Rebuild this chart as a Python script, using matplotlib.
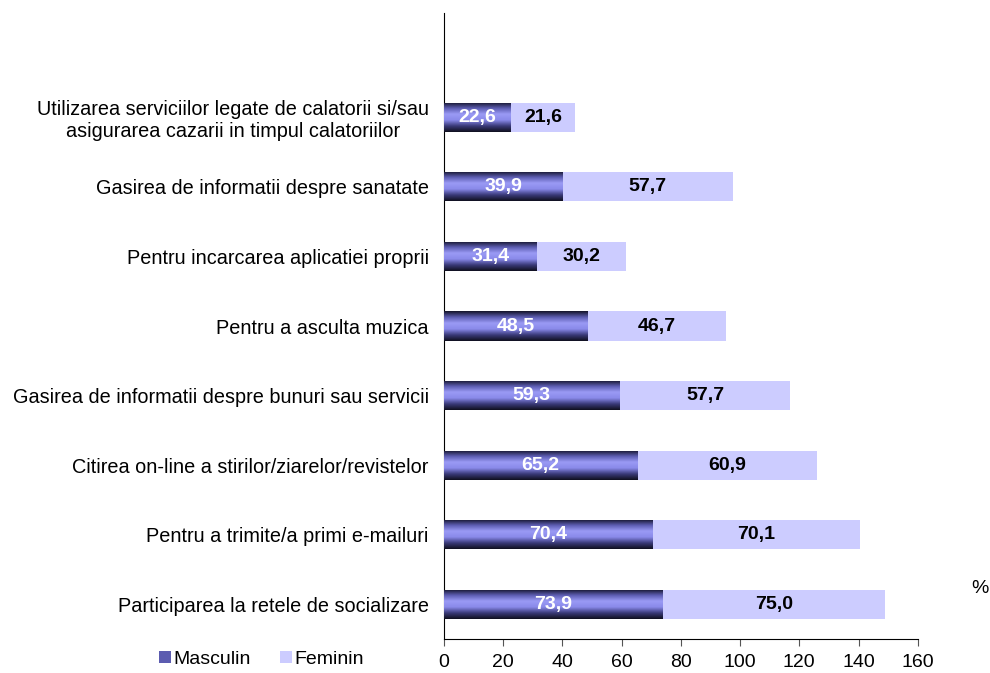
import numpy as np
import matplotlib
matplotlib.use("Agg")
import matplotlib.pyplot as plt
from matplotlib.colors import LinearSegmentedColormap
from matplotlib.patches import Patch

plt.rcParams['font.family'] = ['Liberation Sans', 'DejaVu Sans']

# data, bottom to top
categories = [
    "Participarea la retele de socializare",
    "Pentru a trimite/a primi e-mailuri",
    "Citirea on-line a stirilor/ziarelor/revistelor",
    "Gasirea de informatii despre bunuri sau servicii",
    "Pentru a asculta muzica",
    "Pentru incarcarea aplicatiei proprii",
    "Gasirea de informatii despre sanatate",
    "Utilizarea serviciilor legate de calatorii si/sau\nasigurarea cazarii in timpul calatoriilor",
]
masculin = [73.9, 70.4, 65.2, 59.3, 48.5, 31.4, 39.9, 22.6]
feminin = [75.0, 70.1, 60.9, 57.7, 46.7, 30.2, 57.7, 21.6]

fem_color = "#ccccff"
grad = LinearSegmentedColormap.from_list(
    "masc", ["#14142a", "#5c5cb0", "#9a9af5", "#8a8aea", "#3a3a78", "#10101f"])

fig = plt.figure(figsize=(9.9, 6.73), dpi=100)
ax = fig.add_axes([0.4485, 0.0505, 0.4785, 0.9302])

y = np.arange(len(categories))
h = 0.42

bars_m = ax.barh(y, masculin, height=h, color="#8a8aea", edgecolor="none", zorder=2)
bars_f = ax.barh(y, feminin, left=masculin, height=h, color=fem_color, edgecolor="none", zorder=2)

# vertical gradient on the masculin bars
gimg = np.linspace(0, 1, 100).reshape(-1, 1)
for b in bars_m:
    x0, y0 = b.get_x(), b.get_y()
    w, hh = b.get_width(), b.get_height()
    im = ax.imshow(gimg, cmap=grad, aspect="auto", origin="upper",
                   extent=(x0, x0 + w, y0, y0 + hh), zorder=3)
    im.set_clip_path(b)

for i in range(len(categories)):
    m, f = masculin[i], feminin[i]
    ax.text(m / 2, y[i], f"{m:.1f}".replace(".", ","), ha="center", va="center",
            color="white", fontsize=14, fontweight="bold", zorder=4)
    ax.text(m + f / 2, y[i], f"{f:.1f}".replace(".", ","), ha="center", va="center",
            color="black", fontsize=14, fontweight="bold", zorder=4)

ax.set_xlim(0, 160)
ax.set_ylim(-0.5, 8.5)
ax.set_xticks(range(0, 161, 20))
ax.set_yticks(y)
ax.set_yticklabels(categories, fontsize=14.3, multialignment="center")
ax.tick_params(axis="y", length=0, pad=11)
ax.tick_params(axis="x", labelsize=14, length=5, pad=6, color="#555555")
ax.spines["top"].set_visible(False)
ax.spines["right"].set_visible(False)

fig.text(0.99, 0.126, "%", ha="center", va="center", fontsize=14)

handles = [Patch(facecolor="#5c5cb0", edgecolor="none"),
           Patch(facecolor=fem_color, edgecolor="none")]
fig.legend(handles, ["Masculin", "Feminin"], loc="lower left",
           bbox_to_anchor=(0.143, -0.018), ncol=2, frameon=False, fontsize=14,
           handlelength=0.6, handleheight=0.6, handletextpad=0.15, columnspacing=1.5)

fig.savefig("out.png", dpi=100)
